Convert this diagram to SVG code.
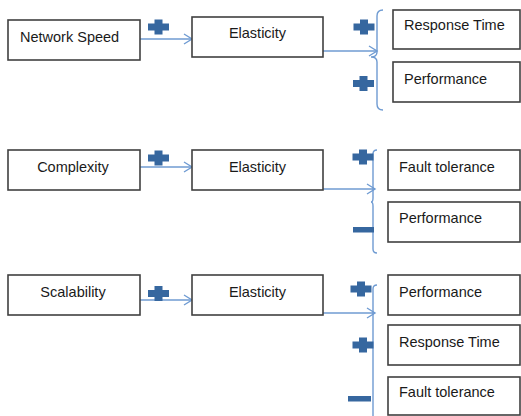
<svg xmlns="http://www.w3.org/2000/svg" xmlns:xlink="http://www.w3.org/1999/xlink" width="521" height="416" viewBox="0 0 521 416">
<style>
.box{fill:#fff;stroke:#404040;stroke-width:1.6}
.t{font-family:"Liberation Sans",Arial,sans-serif;font-size:14.5px;fill:#1a1a1a}
.c{text-anchor:middle}
.ln{fill:none;stroke:#6f9bd2;stroke-width:1.4}
.sign{fill:#36679f}
</style>
<defs>
<marker id="ah" markerUnits="userSpaceOnUse" markerWidth="12" markerHeight="12" refX="9" refY="6" orient="auto">
<path d="M1,1 L9,6 L1,11" fill="none" stroke="#6f9bd2" stroke-width="1.4"/>
</marker>
<path id="plus" class="sign" d="M-4,-7.5 H4 V-3.5 H10.5 V3.5 H4 V7.5 H-4 V3.5 H-10.5 V-3.5 H-4 Z"/>
</defs>
<rect width="521" height="416" fill="#fff"/>
<g id="connectors">
<line class="ln" x1="140" y1="39" x2="192" y2="39" marker-end="url(#ah)"/>
<line class="ln" x1="323" y1="51" x2="377" y2="51" marker-end="url(#ah)"/>
<path class="ln" d="M383,10 Q377,10 377,16 L377,52 Q377,57 371,57 Q377,57 377,62 L377,104 Q377,110 383,110"/>
<line class="ln" x1="140" y1="167" x2="192" y2="167" marker-end="url(#ah)"/>
<line class="ln" x1="323" y1="189" x2="375" y2="189" marker-end="url(#ah)"/>
<path class="ln" d="M377,150 Q373,150 373,154 L373,198 Q373,202 371,202 Q373,202 373,206 L373,249 Q373,253 377,253"/>
<line class="ln" x1="140" y1="300" x2="192" y2="300" marker-end="url(#ah)"/>
<line class="ln" x1="323" y1="313" x2="375" y2="313" marker-end="url(#ah)"/>
<path class="ln" d="M377,285 Q373,285 373,289 L373,416"/>
</g>
<g id="signs">
<use xlink:href="#plus" href="#plus" x="158.5" y="27"/>
<use xlink:href="#plus" href="#plus" x="364" y="27"/>
<use xlink:href="#plus" href="#plus" x="363.5" y="83.5"/>
<use xlink:href="#plus" href="#plus" x="158.5" y="158"/>
<use xlink:href="#plus" href="#plus" x="363" y="157"/>
<rect class="sign" x="353" y="227" width="21" height="5.5"/>
<use xlink:href="#plus" href="#plus" x="158.5" y="293.5"/>
<use xlink:href="#plus" href="#plus" x="361" y="289"/>
<use xlink:href="#plus" href="#plus" x="363" y="345"/>
<rect class="sign" x="348" y="396" width="23" height="5.5"/>
</g>
<g id="network-speed"><rect class="box" x="8" y="20" width="132" height="40"/><text class="t" x="20" y="42">Network Speed</text></g>
<g id="elasticity-1"><rect class="box" x="192" y="17" width="131" height="40"/><text class="t c" x="257.5" y="38">Elasticity</text></g>
<g id="response-time-1"><rect class="box" x="393" y="10" width="127" height="39"/><text class="t" x="404" y="30">Response Time</text></g>
<g id="performance-1"><rect class="box" x="393" y="62" width="127" height="40"/><text class="t" x="404" y="84">Performance</text></g>
<g id="complexity"><rect class="box" x="8" y="150" width="132" height="40"/><text class="t c" x="73" y="172">Complexity</text></g>
<g id="elasticity-2"><rect class="box" x="192" y="150" width="131" height="40"/><text class="t c" x="257.5" y="172">Elasticity</text></g>
<g id="fault-tolerance-2"><rect class="box" x="388" y="150" width="132" height="40"/><text class="t" x="399" y="172">Fault tolerance</text></g>
<g id="performance-2"><rect class="box" x="388" y="202" width="132" height="40"/><text class="t" x="399" y="223">Performance</text></g>
<g id="scalability"><rect class="box" x="8" y="275" width="132" height="40"/><text class="t c" x="73" y="297">Scalability</text></g>
<g id="elasticity-3"><rect class="box" x="192" y="275" width="131" height="40"/><text class="t c" x="257.5" y="297">Elasticity</text></g>
<g id="performance-3"><rect class="box" x="388" y="275" width="132" height="40"/><text class="t" x="399" y="297">Performance</text></g>
<g id="response-time-3"><rect class="box" x="388" y="325" width="132" height="40"/><text class="t" x="399" y="347">Response Time</text></g>
<g id="fault-tolerance-3"><rect class="box" x="388" y="377" width="132" height="38"/><text class="t" x="399" y="397">Fault tolerance</text></g>
</svg>
